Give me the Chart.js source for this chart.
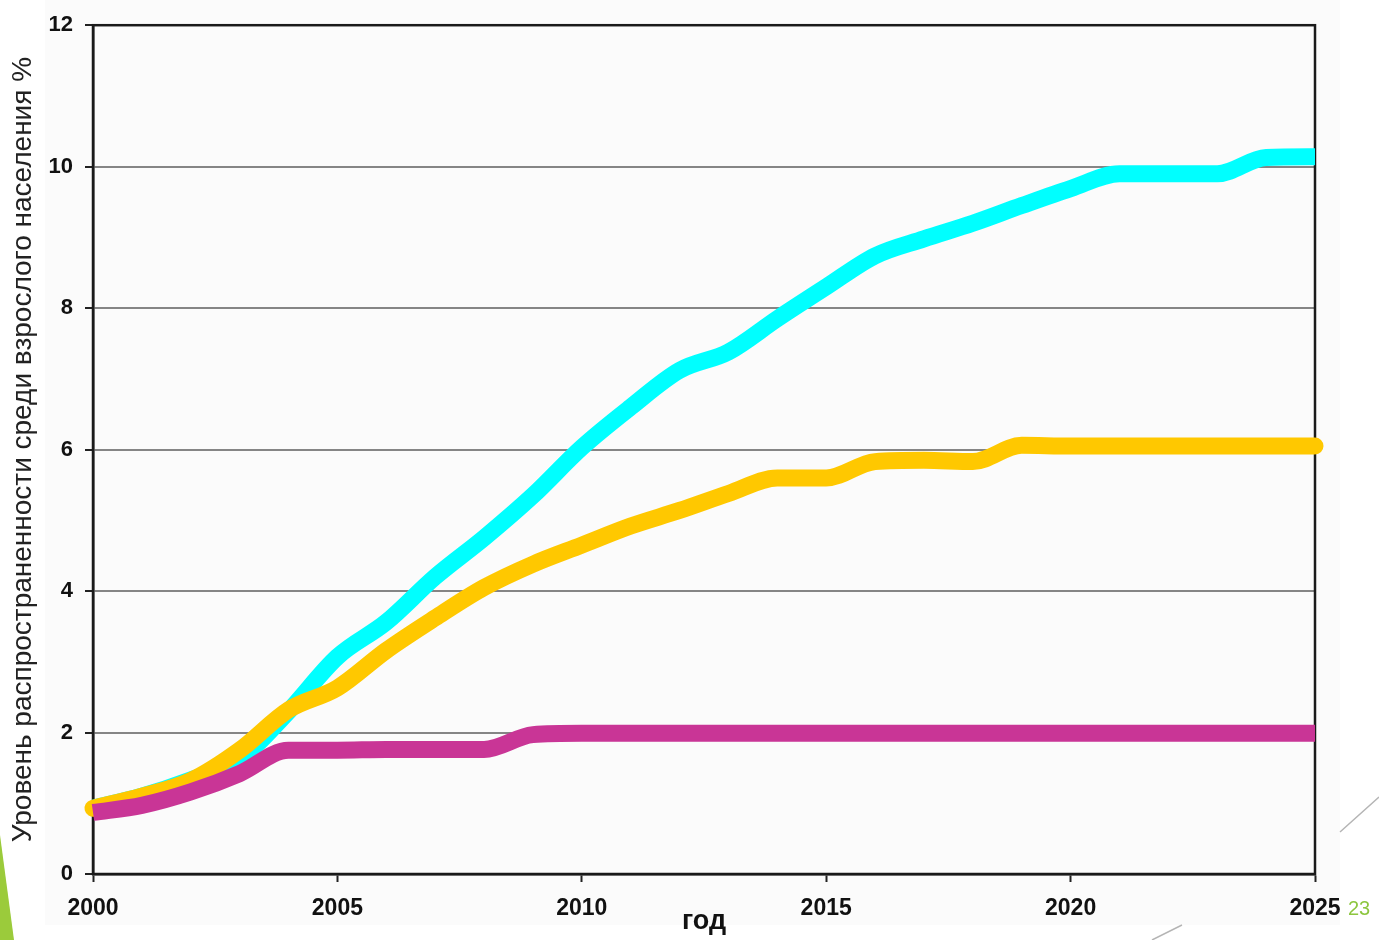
<!DOCTYPE html>
<html>
<head>
<meta charset="utf-8">
<script src="https://cdn.jsdelivr.net/npm/chart.js@4"></script>
<style>
  html, body { margin: 0; padding: 0; background: #fff; }
  #wrap { width: 1379px; height: 940px; }
</style>
</head>
<body>
<div id="wrap"><canvas id="mainChart" width="1379" height="940"></canvas></div>
<script>
// --- DADOS ---
const years = [2000, 2001, 2002, 2003, 2004, 2005, 2006, 2007, 2008, 2009, 2010, 2011, 2012,
               2013, 2014, 2015, 2016, 2017, 2018, 2019, 2020, 2021, 2022, 2023, 2024, 2025];
const cyanValues = [0.93, 1.1, 1.33, 1.62, 2.3, 3.07, 3.56, 4.2, 4.75, 5.35, 6.03, 6.6, 7.12,
                    7.38, 7.85, 8.3, 8.74, 8.98, 9.2, 9.45, 9.69, 9.9, 9.9, 9.9, 10.13, 10.14];
const yellowValues = [0.93, 1.1, 1.32, 1.75, 2.32, 2.63, 3.16, 3.62, 4.05, 4.38, 4.65, 4.92, 5.14,
                      5.38, 5.6, 5.6, 5.83, 5.85, 5.83, 6.06, 6.05, 6.05, 6.05, 6.05, 6.05, 6.05];
const magentaValues = [0.87, 0.97, 1.16, 1.42, 1.75, 1.75, 1.76, 1.76, 1.76, 1.97, 1.99, 1.99, 1.99,
                       1.99, 1.99, 1.99, 1.99, 1.99, 1.99, 1.99, 1.99, 1.99, 1.99, 1.99, 1.99, 1.99];
const yTicks = [0, 2, 4, 6, 8, 10, 12];
const xTicks = [2000, 2005, 2010, 2015, 2020, 2025];
const yTitle = 'Уровень распространенности среди взрослого населения %';
const xTitle = 'год';
const pageNumber = '23';

const toPoints = vals => years.map((yr, i) => ({ x: yr, y: vals[i] }));

// fundo do slide e moldura do gráfico
const slidePlugin = {
    id: 'slide',
    beforeDraw(chart) {
        const ctx = chart.ctx;
        ctx.save();
        ctx.fillStyle = '#ffffff';
        ctx.fillRect(0, 0, chart.width, chart.height);
        ctx.fillStyle = '#fbfbfb';
        ctx.fillRect(45, 0, 1295, 925);
        ctx.restore();
    },
    beforeDatasetsDraw(chart) {
        const { ctx, chartArea: a } = chart;
        ctx.save();
        ctx.strokeStyle = '#1a1a1a';
        ctx.lineWidth = 2.5;
        ctx.strokeRect(a.left, a.top, a.right - a.left, a.bottom - a.top);
        ctx.restore();
    },
    afterDraw(chart) {
        const ctx = chart.ctx;
        ctx.save();
        // triângulo verde
        ctx.fillStyle = '#9bcb3b';
        ctx.beginPath();
        ctx.moveTo(0, 835);
        ctx.lineTo(14, 940);
        ctx.lineTo(0, 940);
        ctx.closePath();
        ctx.fill();
        // linhas decorativas
        ctx.strokeStyle = '#b5b5b5';
        ctx.lineWidth = 1.5;
        ctx.beginPath();
        ctx.moveTo(1340, 832);
        ctx.lineTo(1379, 797);
        ctx.moveTo(1152, 940);
        ctx.lineTo(1182, 925);
        ctx.stroke();
        // número da página
        ctx.fillStyle = '#8dc63f';
        ctx.font = '20px "Liberation Sans", Arial, sans-serif';
        ctx.textBaseline = 'alphabetic';
        ctx.fillText(pageNumber, 1348, 915);
        ctx.restore();
    }
};

const lineStyle = (color, cap) => ({
    borderColor: color,
    backgroundColor: color,
    borderWidth: 17,
    borderCapStyle: cap,
    borderJoinStyle: 'round',
    pointRadius: 0,
    cubicInterpolationMode: 'monotone',
    fill: false,
    clip: 24
});

new Chart(document.getElementById('mainChart'), {
    type: 'line',
    data: {
        datasets: [
            { label: 'magenta', data: toPoints(magentaValues), ...lineStyle('#c93596', 'butt') },
            { label: 'yellow', data: toPoints(yellowValues), ...lineStyle('#ffc800', 'round') },
            { label: 'cyan', data: toPoints(cyanValues), ...lineStyle('#00ffff', 'butt') }
        ]
    },
    options: {
        responsive: false,
        animation: false,
        devicePixelRatio: 1,
        layout: { padding: { left: 0, right: 64, top: 24, bottom: 0 } },
        plugins: { legend: { display: false }, tooltip: { enabled: false } },
        scales: {
            x: {
                type: 'linear',
                min: years[0],
                max: years[years.length - 1],
                afterBuildTicks: s => { s.ticks = xTicks.map(v => ({ value: v })); },
                afterFit: s => { s.height = 66; },
                grid: { drawOnChartArea: false, tickLength: 8, tickColor: '#222', tickWidth: 2 },
                border: { color: '#1a1a1a', width: 2.5 },
                ticks: {
                    padding: 13,
                    color: '#111',
                    font: { family: '"Liberation Sans", Arial, sans-serif', size: 23, weight: 'bold' },
                    callback: v => String(v)
                },
                title: {
                    display: true,
                    text: xTitle,
                    color: '#111',
                    font: { family: '"Liberation Sans", Arial, sans-serif', size: 27, weight: 'bold' },
                    padding: { top: 0, bottom: 2 }
                }
            },
            y: {
                min: 0,
                max: 12,
                afterBuildTicks: s => { s.ticks = yTicks.map(v => ({ value: v })); },
                afterFit: s => { s.width = 93; },
                grid: {
                    color: c => (c.tick && c.tick.value === 12) ? '#1a1a1a' : '#858585',
                    lineWidth: 2,
                    tickLength: 8,
                    tickColor: '#222'
                },
                border: { color: '#1a1a1a', width: 2.5 },
                ticks: {
                    padding: 12,
                    color: '#111',
                    font: { family: '"Liberation Sans", Arial, sans-serif', size: 22, weight: 'bold' }
                },
                title: {
                    display: true,
                    text: yTitle,
                    color: '#222',
                    font: { family: '"Liberation Sans", Arial, sans-serif', size: 28 },
                    padding: { top: 6, bottom: 0 }
                }
            }
        }
    },
    plugins: [slidePlugin]
});
</script>
</body>
</html>
